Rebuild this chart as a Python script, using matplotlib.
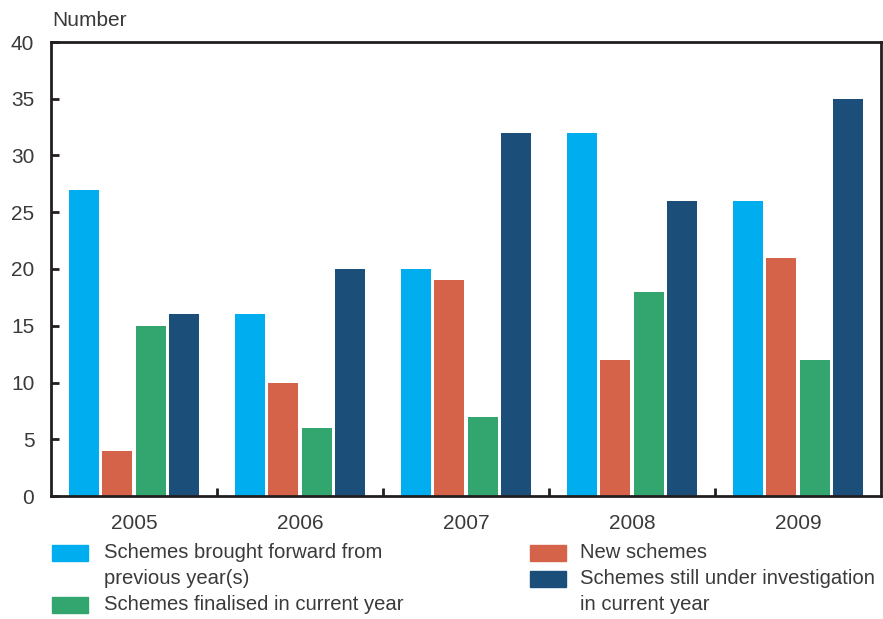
import matplotlib
matplotlib.use("Agg")
import matplotlib.pyplot as plt
from matplotlib.patches import Rectangle
import numpy as np

plt.rcParams['font.family'] = ['Liberation Sans', 'DejaVu Sans']

years = ["2005", "2006", "2007", "2008", "2009"]
brought_forward = [27, 16, 20, 32, 26]
new_schemes = [4, 10, 19, 12, 21]
finalised = [15, 6, 7, 18, 12]
still_open = [16, 20, 32, 26, 35]

labels = ["Schemes brought forward from\nprevious year(s)",
          "New schemes",
          "Schemes finalised in current year",
          "Schemes still under investigation\nin current year"]
colors = ["#00AEEF", "#D4634A", "#33A56E", "#1B4F7A"]

txt = "#3a3a3a"
W, H = 883.0, 619.0

fig = plt.figure(figsize=(8.83, 6.19), dpi=100)
ax = fig.add_axes([51 / W, 1 - 496 / H, 830 / W, 454 / H])

x = np.arange(len(years))
series = [brought_forward, new_schemes, finalised, still_open]
for i, vals in enumerate(series):
    ax.bar(x + (i - 1.5) * 0.2, vals, width=0.18, color=colors[i])

ax.set_xlim(-0.5, 4.5)
ax.set_ylim(0, 40)
ax.set_yticks(range(0, 41, 5))
ax.set_xticks(x)
ax.set_xticklabels(years)
ax.set_xticks(x[:-1] + 0.5, minor=True)

for s in ax.spines.values():
    s.set_linewidth(2.0)
    s.set_color("#231f20")

ax.tick_params(axis='y', direction='in', length=6, width=2.0, color="#231f20",
               labelsize=15, labelcolor=txt, pad=12)
ax.tick_params(axis='y', which='both', right=False)
ax.tick_params(axis='x', which='major', length=0, labelsize=15, labelcolor=txt, pad=13)
ax.tick_params(axis='x', which='minor', direction='in', length=6, width=2.0, color="#231f20")

fig.text(52 / W, 1 - 20 / H, "Number", fontsize=15, color=txt, ha='left', va='center')

# legend drawn by hand so the swatch sits on the first text line
# (series index, swatch x, text x, row y centre in pixels)
legend_rows = [(0, 52, 104, 553), (2, 52, 104, 605), (1, 530, 580, 553), (3, 530, 580, 579)]
for idx, px, tx, py in legend_rows:
    fig.patches.append(Rectangle((px / W, 1 - (py + 8) / H), 36 / W, 16 / H,
                                 transform=fig.transFigure, color=colors[idx]))
    for k, line in enumerate(labels[idx].split("\n")):
        fig.text(tx / W, 1 - (py + 26 * k) / H, line, fontsize=14.6, color=txt,
                 ha='left', va='center')

fig.savefig("out.png", dpi=100)
